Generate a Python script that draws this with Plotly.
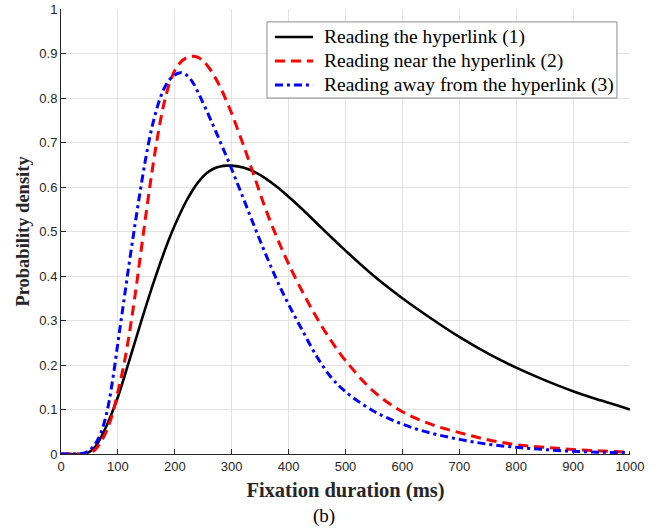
import plotly.graph_objects as go

# Fixation duration (ms)
x_ms = [0, 20, 40, 50, 60, 70, 80, 90, 100, 110, 120, 130, 140, 150, 160, 170, 180,
        190, 200, 210, 220, 230, 240, 250, 260, 270, 280, 290, 300, 320, 340, 360,
        380, 400, 425, 450, 475, 500, 550, 600, 650, 700, 750, 800, 850, 900, 950, 1000]

# Reading the hyperlink (1)
pdf_link = [0, 0, 0.001, 0.005, 0.016, 0.037, 0.063, 0.094, 0.128, 0.168, 0.21, 0.252,
            0.294, 0.335, 0.375, 0.413, 0.449, 0.483, 0.514, 0.542, 0.568, 0.59, 0.609,
            0.624, 0.635, 0.642, 0.646, 0.648, 0.648, 0.644, 0.634, 0.619, 0.6, 0.578,
            0.549, 0.518, 0.487, 0.457, 0.4, 0.35, 0.305, 0.263, 0.226, 0.194, 0.166,
            0.141, 0.12, 0.1]

# Reading near the hyperlink (2)
pdf_near = [0, 0, 0, 0.002, 0.01, 0.027, 0.052, 0.088, 0.14, 0.197, 0.27, 0.355, 0.45,
            0.545, 0.635, 0.715, 0.782, 0.83, 0.862, 0.88, 0.89, 0.894, 0.892, 0.883,
            0.868, 0.848, 0.824, 0.796, 0.765, 0.696, 0.623, 0.549, 0.485, 0.427, 0.363,
            0.305, 0.254, 0.21, 0.14, 0.095, 0.067, 0.048, 0.032, 0.021, 0.015, 0.01,
            0.007, 0.004]

# Reading away from the hyperlink (3)
pdf_away = [0, 0, 0.002, 0.008, 0.022, 0.047, 0.09, 0.16, 0.25, 0.34, 0.43, 0.515, 0.597,
            0.672, 0.735, 0.783, 0.818, 0.84, 0.852, 0.857, 0.852, 0.838, 0.815, 0.788,
            0.76, 0.731, 0.701, 0.671, 0.64, 0.576, 0.511, 0.448, 0.389, 0.336, 0.276,
            0.218, 0.172, 0.14, 0.096, 0.067, 0.047, 0.033, 0.022, 0.015, 0.01, 0.006,
            0.004, 0.003]

series_names = ["Reading the hyperlink (1)", "Reading near the hyperlink (2)",
                "Reading away from the hyperlink (3)"]
series_colors = ["black", "#ff0000", "#0000ff"]
series_dashes = ["solid", "10px,6px", "8px,4px,3px,4px"]
series_widths = [2.6, 3, 3]
series_values = [pdf_link, pdf_near, pdf_away]

y_ticks = [0, 0.1, 0.2, 0.3, 0.4, 0.5, 0.6, 0.7, 0.8, 0.9, 1]
x_ticks = [0, 100, 200, 300, 400, 500, 600, 700, 800, 900, 1000]

fig = go.Figure()
for name, vals, col, dash, w in zip(series_names, series_values, series_colors,
                                     series_dashes, series_widths):
    fig.add_trace(go.Scatter(x=x_ms, y=vals, mode="lines", name=name, showlegend=False,
                             line=dict(color=col, width=w, dash=dash,
                                       shape="spline", smoothing=1)))

axis_common = dict(
    showline=True, linecolor="#262626", linewidth=1, mirror=False,
    ticks="inside", ticklen=5, tickcolor="#262626", tickwidth=1,
    showgrid=True, gridcolor="#e3e3e3", gridwidth=1, zeroline=False,
    automargin=False,
    tickfont=dict(family="Liberation Sans, Arial, sans-serif", size=13, color="#262626"),
)

serif = "Liberation Serif, Times New Roman, serif"

# Legend box (drawn as layout shapes + text, MATLAB-style compact spacing)
leg_x0, leg_x1, leg_y0, leg_y1 = 0.362, 0.977, 0.800, 0.971
row_y = [0.937, 0.883, 0.829]
sample_x0, sample_x1, text_x = 0.376, 0.443, 0.4587

shapes = [dict(type="rect", xref="paper", yref="paper", x0=leg_x0, x1=leg_x1,
               y0=leg_y0, y1=leg_y1, fillcolor="white",
               line=dict(color="#8c8c8c", width=1), layer="above")]
annotations = []
for name, col, dash, w, ry in zip(series_names, series_colors, series_dashes,
                                  series_widths, row_y):
    shapes.append(dict(type="line", xref="paper", yref="paper", x0=sample_x0,
                       x1=sample_x1, y0=ry, y1=ry, layer="above",
                       line=dict(color=col, width=w, dash=dash)))
    annotations.append(dict(text=name, xref="paper", yref="paper", x=text_x, y=ry,
                            xanchor="left", yanchor="middle", showarrow=False,
                            font=dict(family=serif, size=19.5, color="black")))

annotations.append(dict(text="(b)", xref="paper", yref="paper", x=0.462, y=-0.139,
                        xanchor="center", yanchor="middle", showarrow=False,
                        font=dict(family=serif, size=19, color="black")))

fig.update_layout(
    width=664, height=529,
    margin=dict(l=61, r=34, t=9, b=75),
    paper_bgcolor="white", plot_bgcolor="white",
    xaxis=dict(range=[0, 1000], tickvals=x_ticks, **axis_common,
               title=dict(text="<b>Fixation duration (ms)</b>", standoff=10,
                          font=dict(family=serif, size=20.5, color="#262626"))),
    yaxis=dict(range=[0, 1], tickvals=y_ticks, **axis_common,
               title=dict(text="<b>Probability density</b>", standoff=4,
                          font=dict(family=serif, size=18.5, color="#262626"))),
    showlegend=False,
    shapes=shapes,
    annotations=annotations,
)

fig.write_html("out.html")
